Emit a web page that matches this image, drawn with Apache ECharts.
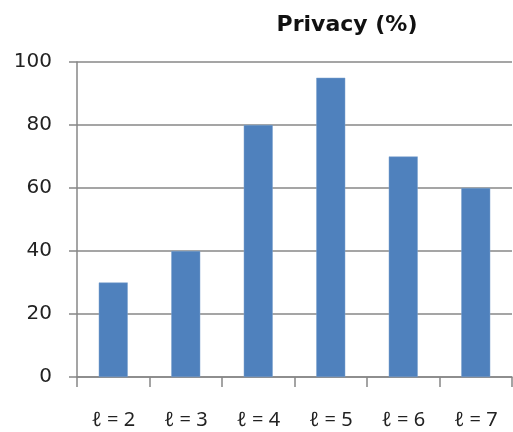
<!DOCTYPE html>
<html>
<head>
<meta charset="utf-8">
<script src="https://cdn.jsdelivr.net/npm/echarts@6/dist/echarts.min.js"></script>
<style>
	html, body { margin: 0; padding: 0; background: #fff; }
	#chart { width: 513px; height: 432px; }
</style>
</head>
<body>
<div id="chart"></div>
<script>
var categories = ['ℓ = 2', 'ℓ = 3', 'ℓ = 4', 'ℓ = 5', 'ℓ = 6', 'ℓ = 7'];
var privacyValues = [30, 40, 80, 95, 70, 60];
var yTicks = { min: 0, max: 100, step: 20 };

var chart = echarts.init(document.getElementById('chart'));
var gray = '#878787';
var option = {
	animation: false,
	title: {
		text: 'Privacy (%)',
		left: 342,
		top: 9,
		textAlign: 'center',
		textStyle: {
			fontFamily: 'DejaVu Sans',
			fontSize: 22,
			fontWeight: 'bold',
			color: '#111'
		}
	},
	grid: {
		left: 77,
		right: 1,
		top: 62,
		bottom: 55
	},
	xAxis: {
		type: 'category',
		data: categories,
		axisLine: { lineStyle: { color: gray, width: 1.5 } },
		axisTick: { show: true, length: 10, lineStyle: { color: gray, width: 1.5 } },
		axisLabel: {
			margin: 33,
			fontFamily: 'Noto Sans',
			fontSize: 20,
			color: '#222'
		}
	},
	yAxis: {
		type: 'value',
		min: yTicks.min,
		max: yTicks.max,
		interval: yTicks.step,
		axisLine: { show: true, lineStyle: { color: gray, width: 1.5 } },
		axisTick: { show: true, length: 8, lineStyle: { color: gray, width: 1.5 } },
		splitLine: { show: true, lineStyle: { color: gray, width: 1.5 } },
		axisLabel: {
			margin: 25,
			fontFamily: 'DejaVu Sans',
			fontSize: 20,
			color: '#222'
		}
	},
	series: [{
		type: 'bar',
		data: privacyValues,
		barWidth: '40%',
		itemStyle: {
			color: '#4F81BD',
			borderColor: '#7DA2CF',
			borderWidth: 0.5
		}
	}]
};
chart.setOption(option);
</script>
</body>
</html>
